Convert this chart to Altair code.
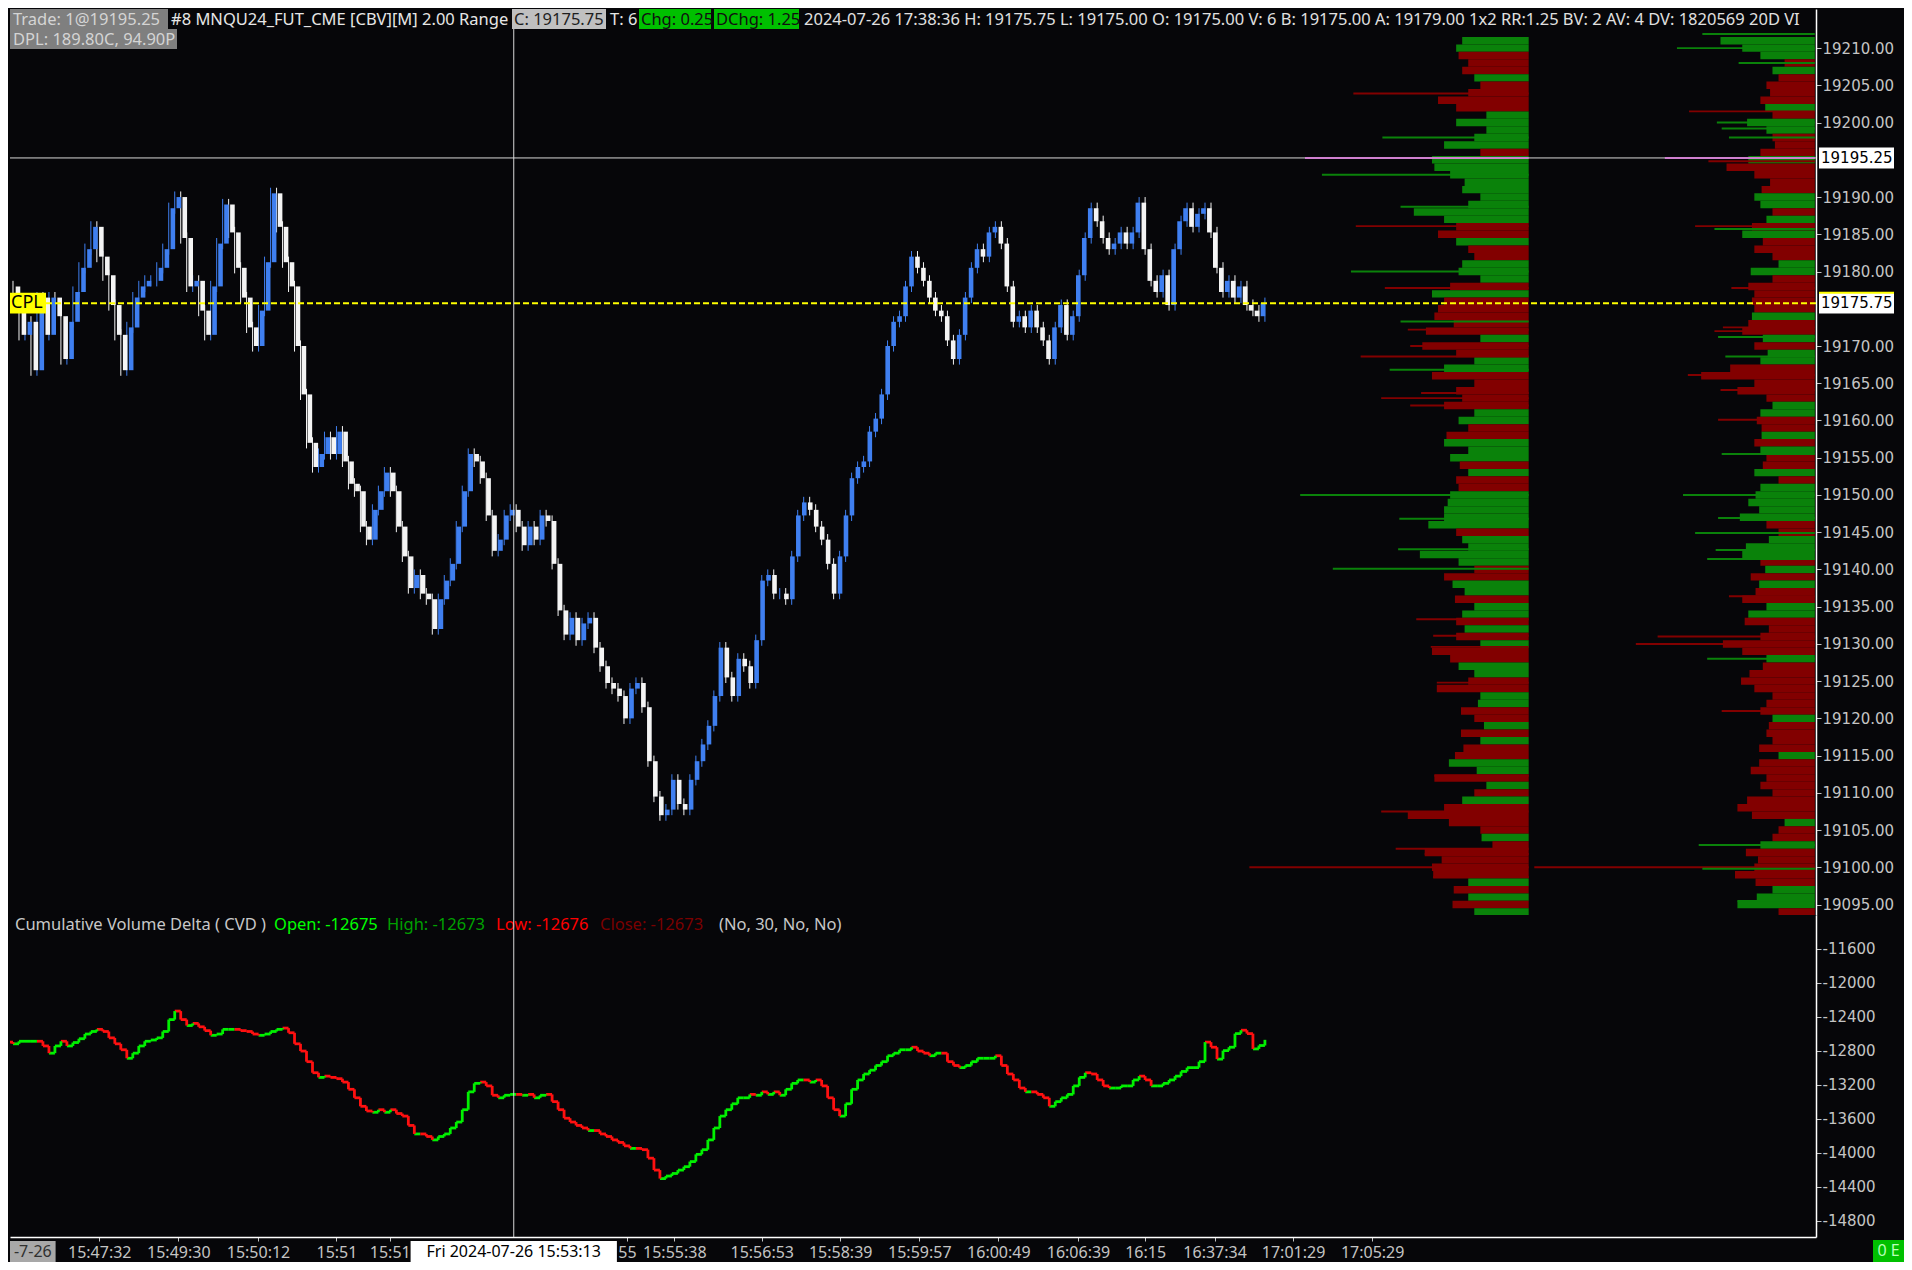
import numpy as np
import pandas as pd
import altair as alt

# ------------------------------------------------------------------ data
# 2.00 range bars, closes read left to right
first_open = 19178.0
close = [19176.5, 19171.5, 19173.25, 19166.75, 19176.5, 19171.5, 19176.5, 19174.0, 19168.25, 19173.25, 19177.25, 19180.5, 19183.0,
         19186.0, 19182.0, 19179.5, 19175.5, 19171.5, 19166.75, 19172.5, 19176.5, 19178.0, 19178.75, 19178.75, 19180.5, 19183.0,
         19188.5, 19190.0, 19184.5, 19178.0, 19178.75, 19174.75, 19171.5, 19178.0, 19183.75, 19189.0, 19185.25, 19180.5, 19176.5,
         19172.5, 19170.0, 19174.75, 19181.25, 19190.5, 19186.0, 19181.25, 19178.0, 19170.0, 19163.5, 19157.0, 19153.75, 19155.5,
         19157.75, 19155.5, 19158.5, 19154.5,
         19151.5, 19150.5, 19145.75, 19144.0, 19148.0, 19150.5, 19153.0, 19150.5, 19145.75, 19141.75,
         19137.5, 19139.25, 19136.75, 19136.0, 19132.0, 19136.0, 19138.5, 19140.75, 19145.75, 19150.5,
         19155.5, 19154.5, 19152.25, 19147.25, 19142.5, 19144.0, 19147.25, 19148.0, 19145.75, 19143.25,
         19145.75, 19144.0, 19147.25, 19146.5, 19140.75, 19134.5, 19131.25, 19133.5, 19130.5, 19132.75,
         19133.5, 19129.5, 19127.0, 19124.75, 19124.0, 19123.0, 19120.0, 19124.0, 19124.75, 19121.5,
         19114.25, 19109.5, 19107.0, 19107.75, 19111.75, 19108.5, 19107.75, 19111.75, 19114.25, 19116.5,
         19119.0, 19123.0, 19129.5, 19125.5, 19123.0, 19128.0, 19127.0, 19124.75, 19130.5, 19138.5,
         19139.25, 19136.75, 19136.75, 19136.0, 19141.75, 19147.25, 19149.0, 19148.0, 19145.75, 19144.0,
         19140.75, 19136.75, 19141.75, 19147.25, 19152.25, 19153.75, 19154.5, 19158.5, 19160.25, 19163.5,
         19170.0, 19173.25, 19174.0, 19178.0, 19182.0, 19180.5, 19178.75, 19176.5, 19174.75, 19174.0,
         19170.75, 19168.25, 19171.5, 19176.5, 19180.5, 19183.0, 19182.0, 19185.25, 19186.0, 19183.75,
         19178.0, 19173.25, 19174.0, 19172.5, 19174.75, 19172.5, 19170.75, 19168.25, 19172.5, 19175.5,
         19171.5, 19174.0, 19179.5, 19184.5, 19188.5, 19186.75, 19184.5, 19183.0, 19183.75, 19185.25,
         19183.75, 19185.25, 19189.25, 19183.0, 19178.75, 19177.25, 19179.5, 19175.5, 19183.0, 19186.75,
         19188.5, 19186.0, 19187.75, 19188.5, 19185.25, 19180.5, 19177.25, 19178.75, 19176.5, 19178.0,
         19175.5, 19174.75, 19174.0, 19175.75]

# cumulative volume delta, one value per bar
first_cvd_open = -12700
cvd = [-12720, -12690, -12690, -12690, -12690, -12745, -12830, -12745, -12690, -12745, -12705, -12660, -12605,
       -12575, -12550, -12575, -12650, -12720, -12790, -12890, -12830, -12745, -12690, -12675, -12650, -12575,
       -12435, -12335, -12435, -12505, -12480, -12520, -12565, -12620, -12605, -12550, -12550, -12550, -12565,
       -12575, -12605, -12620, -12605, -12575, -12550, -12535, -12590, -12720, -12805, -12930, -13060, -13115,
       -13100, -13115, -13130, -13170,
       -13255, -13355, -13455, -13510, -13525, -13495, -13525, -13495, -13540, -13570,
       -13680, -13780, -13780, -13810, -13850, -13810, -13780, -13710, -13640, -13495,
       -13285, -13185, -13170, -13215, -13325, -13355, -13325, -13315, -13315, -13325,
       -13315, -13355, -13325, -13315, -13400, -13495, -13595, -13640, -13680, -13710,
       -13740, -13740, -13780, -13810, -13850, -13880, -13920, -13950, -13950, -13965,
       -14065, -14205, -14305, -14275, -14245, -14205, -14165, -14105, -14020, -13965,
       -13850, -13710, -13570, -13495, -13425, -13355, -13355, -13315, -13325, -13285,
       -13315, -13285, -13325, -13255, -13185, -13145, -13145, -13170, -13145, -13215,
       -13355, -13495, -13570, -13425, -13255, -13145, -13075, -13030, -12975, -12930,
       -12860, -12830, -12790, -12790, -12760, -12805, -12830, -12860, -12830, -12830,
       -12930, -12975, -13000, -12975, -12930, -12890, -12890, -12890, -12860, -12975,
       -13075, -13145, -13240, -13285, -13285, -13315, -13355, -13455, -13400, -13355,
       -13315, -13215, -13115, -13060, -13075, -13145, -13215, -13240, -13240, -13215,
       -13215, -13145, -13100, -13145, -13215, -13215, -13185, -13145, -13100, -13045,
       -13000, -13000, -12930, -12700, -12760, -12900, -12800, -12760, -12600, -12560,
       -12600, -12780, -12740, -12673]

# volume profiles: one row per 1.00 price level, from 19211 down to 19094
prof_top = 19211
p1_len = [55, 60, 58, 50, 55, 45, 40, 50, 75, 60,
          35, 60, 35, 45, 70, 40, 80, 78, 65, 53,
          55, 40, 50, 95, 70, 60, 75, 60, 50, 45,
          55, 58, 40, 65, 80, 70, 75, 78, 62, 85,
          40, 88, 60, 45, 70, 80, 45, 60, 55, 70,
          45, 58, 50, 68, 70, 50, 65, 57, 50, 60,
          58, 65, 67, 70, 70, 83, 60, 55, 50, 90,
          58, 45, 70, 63, 53, 61, 45, 55, 60, 53,
          60, 40, 80, 65, 58, 45, 50, 76, 40, 42,
          56, 45, 37, 56, 40, 54, 61, 66, 43, 78,
          35, 45, 55, 70, 100, 66, 40, 39, 30, 86,
          72, 80, 79, 50, 62, 50, 63, 45]
p1_side = ("GGRRRGRRRR" "GGGGGRGGGG" "GGGGGRRGRR" "GGGRGRRRRR" "GRRGGRRRRR" "GGRRGGGRGR"
           "RGGGGGRGGG" "GRRGGRGGRG" "RGRRGGRRGG" "RRGRGRRGGR" "GRGRRRRGRR" "RRRGRGRG")
p2_len = [78, 60, 45, 25, 35, 30, 40, 37, 45, 41,
          35, 56, 40, 35, 33, 45, 55, 73, 50, 37,
          44, 50, 45, 35, 40, 52, 60, 43, 50, 35,
          30, 53, 35, 55, 50, 52, 50, 52, 55, 60,
          43, 50, 39, 45, 70, 94, 50, 64, 40, 35,
          45, 48, 44, 44, 50, 45, 40, 43, 50, 30,
          45, 49, 55, 46, 62, 40, 30, 38, 57, 60,
          45, 41, 53, 46, 49, 60, 40, 55, 58, 38,
          45, 76, 60, 40, 43, 54, 61, 50, 35, 40,
          45, 35, 38, 40, 35, 46, 30, 46, 53, 40,
          45, 35, 56, 64, 52, 25, 30, 35, 45, 57,
          47, 50, 66, 49, 35, 48, 64, 30]
p2_side = ("GGGRGRRRRG" "RGGRRRGRRR" "RGGRGRGRRR" "GGRRRRRGRR" "GRGGRRRRRG" "GRRGRGRRGR"
           "GGGGGRRGGG" "RGRGRRGGRR" "RRRGRRRRRR" "RGRRRRGRRR" "RRRRRGRRGR" "RRRRGGGR")
# long single-tick lines in the profiles
sp1_price = [19203.9, 19198.0, 19193.0, 19188.7, 19186.1, 19180.0, 19177.8, 19173.3, 19172.2, 19170.0,
             19168.6, 19166.8, 19163.7, 19163.0, 19162.0, 19150.0, 19146.8, 19142.7, 19140.1, 19133.3,
             19131.1, 19129.6, 19124.8, 19112.3, 19107.5, 19102.5, 19101.8, 19100.0, 19098.7]
sp1_len = [145, 121, 171, 106, 143, 147, 119, 106, 100, 98, 139, 115, 89, 122, 98, 189, 107, 108, 162, 93,
           79, 81, 76, 78, 122, 110, 86, 231, 79]
sp1_side = "RGGGRGRGRRRGRRRGGGGRRRRRRRRRR"
sp2_price = [19211.9, 19210.0, 19208.0, 19201.5, 19200.0, 19199.2, 19198.0, 19194.8, 19186.1, 19185.7,
             19177.8, 19172.5, 19172.0, 19171.2, 19168.6, 19166.1, 19164.1, 19160.1, 19155.5, 19150.0,
             19146.9, 19144.9, 19142.6, 19141.4, 19136.4, 19131.0, 19130.0, 19128.0, 19121.0, 19103.0,
             19100.0, 19099.8, 19095.5]
sp2_len = [93, 114, 63, 104, 81, 77, 71, 88, 99, 83, 69, 76, 83, 80, 74, 105, 78, 80, 77, 109,
           80, 99, 82, 89, 71, 130, 148, 89, 77, 96, 232, 93, 64]
sp2_side = "GGGRGGGRRGRRRGGRRRGGGGGGRRRGRGRGG"

last_price = 19195.25
last_len1, last_len2 = 185, 124
cpl_price = 19175.75
cursor_bar = 83.6

# axis ticks (19175 and 19195 sit under the price tags)
price_ticks = [19095, 19100, 19105, 19110, 19115, 19120, 19125, 19130, 19135, 19140, 19145, 19150,
               19155, 19160, 19165, 19170, 19180, 19185, 19190, 19200, 19205, 19210]
cvd_ticks = [-11600, -12000, -12400, -12800, -13200, -13600, -14000, -14400, -14800]
time_bar = [14.4, 27.6, 40.9, 54.0, 62.9, 102.5, 110.4, 125.0, 138.1, 151.3, 164.5, 177.8, 189.0, 200.6, 213.7, 226.9]
time_lab = ["15:47:32", "15:49:30", "15:50:12", "15:51", "15:51", "55", "15:55:38", "15:56:53",
            "15:58:39", "15:59:57", "16:00:49", "16:06:39", "16:15", "16:37:34", "17:01:29", "17:05:29"]

# ------------------------------------------------------------------ layout / style
BG = "#060609"
W, H1, H2 = 1806, 906, 322
GREEN, RED = "#0a820a", "#820000"
UP, DOWN = "#3f7ff0", "#f4f4f4"
GRAY = "#c4c4c4"
FONT = "Noto Sans"
AXFONT = "DejaVu Sans"

price_scale = alt.Scale(domain=[19093.6, 19215.25], nice=False, zero=False)
cvd_scale = alt.Scale(domain=[-14992, -11205], nice=False, zero=False)
bar_scale = alt.Scale(domain=[-0.5, 301.0], nice=False, zero=False)
unit = 1.2092                      # px per profile volume unit
span = W / unit
E1, E2 = 1518.7, 1804.8            # right edges of the two profiles
p1_scale = alt.Scale(domain=[E1 / unit - span, E1 / unit], reverse=True, nice=False, zero=False)
p2_scale = alt.Scale(domain=[E2 / unit - span, E2 / unit], reverse=True, nice=False, zero=False)

ax = dict(labelColor=GRAY, tickColor=GRAY, domainColor="#ffffff", domainWidth=1.5, grid=False,
          title=None, labelOverlap=False, labelFlush=False)
price_axis = alt.Axis(orient="right", values=price_ticks, format=".2f", labelFont=AXFONT,
                      labelFontSize=15, tickSize=5, labelPadding=1, **ax)
cvd_axis = alt.Axis(orient="right", values=cvd_ticks, labelExpr="'' + datum.value", labelFont=AXFONT,
                    labelFontSize=15, tickSize=5, labelPadding=1, **ax)
time_expr = ("[" + ",".join("'%s'" % s for s in time_lab) + "][indexof([" +
             ",".join(str(v) for v in time_bar) + "], datum.value)]")
time_axis = alt.Axis(orient="bottom", values=time_bar, labelExpr=time_expr, labelFont=FONT,
                     labelFontSize=16, tickSize=4, labelPadding=3, **ax)


def Yp(f):
    return alt.Y(f, type="quantitative", scale=price_scale, axis=price_axis)


def Yc(f):
    return alt.Y(f, type="quantitative", scale=cvd_scale, axis=cvd_axis)


def Xb(f):
    return alt.X(f, type="quantitative", scale=bar_scale, axis=None)


def Xt(f):
    return alt.X(f, type="quantitative", scale=bar_scale, axis=time_axis)


side_color = alt.condition("datum.s == 'G'", alt.value(GREEN), alt.value(RED))
dir_color = alt.condition("datum.d == 'up'", alt.value(UP), alt.value(DOWN))
cvd_color = alt.condition("datum.d == 'up'", alt.value("#00f000"), alt.value("#ff1010"))

one = pd.DataFrame({"k": [0]})


def box(x0, x1, y0, y1, color):
    return alt.Chart(one).mark_rect(color=color).encode(
        x=alt.value(x0), x2=alt.value(x1), y=alt.value(y0), y2=alt.value(y1))


def label(text, x, y, color, size=16.5, font=FONT, limit=0, align="left"):
    kw = dict(align=align, baseline="middle", font=font, fontSize=size, color=color)
    if limit:
        kw.update(limit=limit, ellipsis=" ")
    return alt.Chart(pd.DataFrame({"t": [text]})).mark_text(**kw).encode(
        x=alt.value(x), y=alt.value(y), text="t:N")


# ------------------------------------------------------------------ tables
n = len(close)
bars = pd.DataFrame({"i": np.arange(n), "o": [first_open] + close[:-1], "c": close})
bars["d"] = np.where(bars.c >= bars.o, "up", "down")
bars["hi"] = bars[["o", "c"]].max(axis=1) + 0.75
bars["lo"] = bars[["o", "c"]].min(axis=1) - 0.75

cv = pd.DataFrame({"i": np.arange(n), "prev": [first_cvd_open] + cvd[:-1], "cur": cvd})
cv["d"] = np.where(cv.cur >= cv.prev, "up", "down")
cv["ip"] = np.maximum(cv.i - 1, -0.5)

levels = [prof_top - k for k in range(len(p1_len))]


def prof_df(lens, sides, prices, half):
    df = pd.DataFrame({"p": prices, "v": lens, "s": list(sides)})
    df["lo"] = df.p - half
    df["hi"] = df.p + half
    df["z"] = 0
    return df


pr1 = prof_df(p1_len, p1_side, levels, 0.5)
pr2 = prof_df(p2_len, p2_side, levels, 0.5)
sp1 = prof_df(sp1_len, sp1_side, sp1_price, 0.13)
sp2 = prof_df(sp2_len, sp2_side, sp2_price, 0.13)


def prof_layer(df, sc):
    return alt.Chart(df).mark_rect().encode(
        x=alt.X("v:Q", scale=sc, axis=None), x2="z:Q", y=Yp("lo"), y2="hi:Q", color=side_color)


hl1 = pd.DataFrame({"p": [last_price], "v": [last_len1], "z": [0]})
hl2 = pd.DataFrame({"p": [last_price], "v": [last_len2], "z": [0]})
lastdf = pd.DataFrame({"p": [last_price]})
cpldf = pd.DataFrame({"p": [cpl_price]})
curdf = pd.DataFrame({"b": [cursor_bar]})

# ------------------------------------------------------------------ price pane
layers = [
    prof_layer(pr1, p1_scale), prof_layer(sp1, p1_scale),
    prof_layer(pr2, p2_scale), prof_layer(sp2, p2_scale),
    alt.Chart(bars).mark_rule(strokeWidth=1).encode(x=Xb("i"), y=Yp("lo"), y2="hi:Q", color=dir_color),
    alt.Chart(bars).mark_bar(size=4.6).encode(x=Xb("i"), y=Yp("o"), y2="c:Q", color=dir_color),
    alt.Chart(lastdf).mark_rule(color="#d8d8d8", strokeWidth=1).encode(y=Yp("p")),
    alt.Chart(hl1).mark_rule(color="#d080d0", strokeWidth=2).encode(
        x=alt.X("v:Q", scale=p1_scale, axis=None), x2="z:Q", y=Yp("p")),
    alt.Chart(hl2).mark_rule(color="#d080d0", strokeWidth=2).encode(
        x=alt.X("v:Q", scale=p2_scale, axis=None), x2="z:Q", y=Yp("p")),
    alt.Chart(cpldf).mark_rule(color="#ffff00", strokeWidth=2, strokeDash=[6, 3]).encode(y=Yp("p")),
    alt.Chart(curdf).mark_rule(color="#d8d8d8", strokeWidth=1).encode(x=Xb("b")),
    # CPL tag on the left
    alt.Chart(cpldf).transform_calculate(t="datum.p + 1.4", b="datum.p - 1.4").mark_rect(color="#ffff00").encode(
        x=alt.value(0), x2=alt.value(36), y=Yp("t:Q"), y2="b:Q"),
    alt.Chart(cpldf).mark_text(text="CPL", align="left", baseline="middle", font=FONT, fontSize=18,
                               color="#000000").encode(x=alt.value(1), y=Yp("p")),
    # price tags on the axis
    alt.Chart(lastdf).transform_calculate(t="datum.p + 1.4", b="datum.p - 1.4").mark_rect(color="#ffffff").encode(
        x=alt.value(W + 3), x2=alt.value(W + 78), y=Yp("t:Q"), y2="b:Q"),
    alt.Chart(lastdf).mark_text(align="left", baseline="middle", font=AXFONT, fontSize=15, color="#000000").encode(
        x=alt.value(W + 5), y=Yp("p"), text=alt.Text("p:Q", format=".2f")),
    alt.Chart(cpldf).transform_calculate(t="datum.p + 1.4", b="datum.p - 1.4").mark_rect(color="#ffffff").encode(
        x=alt.value(W + 3), x2=alt.value(W + 78), y=Yp("t:Q"), y2="b:Q"),
    alt.Chart(cpldf).transform_calculate(t="datum.p + 1.4").mark_rule(color="#ffff00", strokeWidth=2).encode(
        x=alt.value(W + 3), x2=alt.value(W + 78), y=Yp("t:Q")),
    alt.Chart(cpldf).mark_text(align="left", baseline="middle", font=AXFONT, fontSize=15, color="#000000").encode(
        x=alt.value(W + 5), y=Yp("p"), text=alt.Text("p:Q", format=".2f")),
    # header
    box(0, 158, 0, 20, "#7f7f7f"),
    box(0, 167, 20, 40, "#7f7f7f"),
    box(502, 596, 0, 20, "#c0c0c0"),
    box(629, 701, 0, 20, "#00c000"),
    box(704, 789, 0, 20, "#00c000"),
    label("Trade: 1@19195.25", 3, 10.5, "#d4d4d4"),
    label("DPL: 189.80C, 94.90P", 3, 30.5, "#d4d4d4"),
    label("#8 MNQU24_FUT_CME [CBV][M]  2.00 Range", 161, 10.5, "#e6e6e6"),
    label("C: 19175.75", 504, 10.5, "#1e1e1e"),
    label("T: 6", 600, 10.5, "#e6e6e6"),
    label("Chg: 0.25", 631, 10.5, "#101010"),
    label("DChg: 1.25", 706, 10.5, "#101010"),
    label("2024-07-26 17:38:36 H: 19175.75 L: 19175.00 O: 19175.00 V: 6 B: 19175.00 A: 19179.00 "
          "1x2 RR:1.25 BV: 2  AV: 4 DV: 1820569 20D VI", 794, 10.5, "#e0e0e0", limit=W - 794),
]
top = alt.layer(*layers).resolve_scale(x="independent").properties(width=W, height=H1)

# ------------------------------------------------------------------ CVD pane
blayers = [
    alt.Chart(cv).mark_rule(strokeWidth=2.8).encode(x=Xt("ip"), x2="i:Q", y=Yc("prev"), color=cvd_color),
    alt.Chart(cv).mark_rule(strokeWidth=2.8).encode(x=Xt("i"), y=Yc("prev"), y2="cur:Q", color=cvd_color),
    label("Cumulative Volume Delta ( CVD )", 5, 9.5, "#c8c8c8"),
    label("Open: -12675", 264, 9.5, "#00ff00"),
    label("High: -12673", 377, 9.5, "#00a000"),
    label("Low: -12676", 486, 9.5, "#ff0000"),
    label("Close: -12673", 590, 9.5, "#7a0000"),
    label("(No, 30, No, No)", 709, 9.5, "#c8c8c8"),
    alt.Chart(curdf).mark_rule(color="#d8d8d8", strokeWidth=1).encode(x=Xt("b")),
    box(0, 45.6, 326, 347, "#a8a8a8"),
    label("-7-26", 22.8, 336.5, "#303030", size=16, align="center"),
    box(400.6, 606.9, 326, 347, "#ffffff"),
    label("Fri 2024-07-26  15:53:13", 503.7, 336.5, "#000000", size=16, align="center"),
    box(1863, 1894, 325, 347, "#00c000"),
    label("0 E", 1878.5, 336, "#b8ffb8", size=16, align="center"),
]
bottom = alt.layer(*blayers).properties(width=W, height=H2)

chart = alt.vconcat(top, bottom, spacing=0, bounds="flush").properties(
    padding={"left": 0, "right": 0, "top": 0, "bottom": 0}, background=BG
).configure_view(strokeWidth=0, fill=BG)

chart.save("out.html", embed_options={"renderer": "svg", "actions": False})
